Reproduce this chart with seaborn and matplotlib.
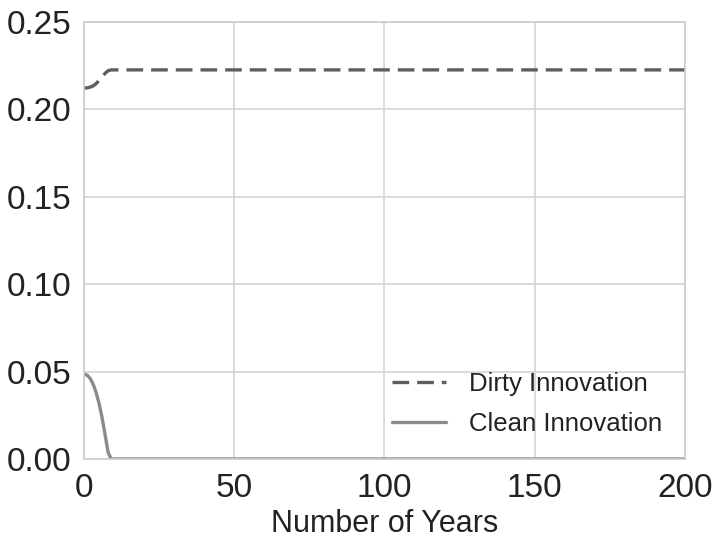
import pandas as pd
import matplotlib.pyplot as plt
import seaborn as sns

# values (flat after year 9)
years = [0, 1, 2, 3, 4, 5, 6, 7, 8, 9, 200]
dirty = [0.2122, 0.2123, 0.2127, 0.2134, 0.2147, 0.2165, 0.2186, 0.2206, 0.2221, 0.2226, 0.2226]
clean = [0.0486, 0.0480, 0.0462, 0.0430, 0.0382, 0.0318, 0.0238, 0.0140, 0.0040, 0.0, 0.0]

df = pd.DataFrame({'Number of Years': years, 'Dirty Innovation': dirty, 'Clean Innovation': clean})

sns.set_theme(style='whitegrid')
plt.rcParams['font.family'] = ['Liberation Sans', 'DejaVu Sans']

fig, ax = plt.subplots(figsize=(7.15, 5.43), dpi=100)
fig.subplots_adjust(left=0.1175, right=0.958, top=0.9595, bottom=0.1547)

sns.lineplot(data=df, x='Number of Years', y='Dirty Innovation', ax=ax, color='#5e5e5e',
             linewidth=2.4, linestyle=(0, (5, 2.4)), label='Dirty Innovation')
sns.lineplot(data=df, x='Number of Years', y='Clean Innovation', ax=ax, color='#8a8a8a',
             linewidth=2.4, label='Clean Innovation')

ax.set_xlim(0, 200)
ax.set_ylim(0, 0.25)
ax.set_xticks([0, 50, 100, 150, 200])
ax.set_yticks([0, 0.05, 0.10, 0.15, 0.20, 0.25])
ax.set_yticklabels(['0.00', '0.05', '0.10', '0.15', '0.20', '0.25'])
ax.tick_params(labelsize=24, colors='#222222', length=0)
ax.tick_params(axis='y', pad=9)
ax.tick_params(axis='x', pad=10)
ax.set_xlabel('Number of Years', fontsize=22, color='#222222', labelpad=4)
ax.set_ylabel('')
for s in ax.spines.values():
    s.set_color('#cccccc')
    s.set_linewidth(1.2)
ax.grid(color='#d4d4d4', linewidth=1.2)

leg = ax.legend(loc='lower right', fontsize=18.5, frameon=False, handlelength=2.1,
                bbox_to_anchor=(1.0, 0.0), labelspacing=0.6, handletextpad=0.9)
for t in leg.get_texts():
    t.set_color('#222222')

fig.savefig('out.png', dpi=100)
